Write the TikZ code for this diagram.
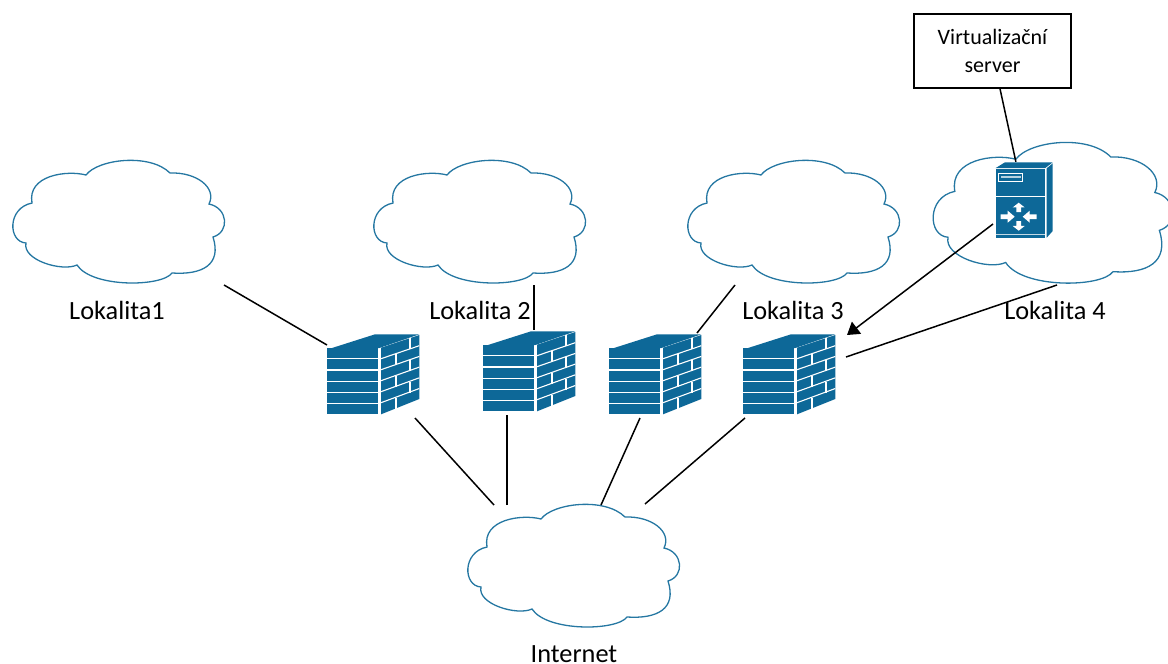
\documentclass[tikz,border=0pt]{standalone}
\usepackage{fontspec}
\setmainfont{Carlito}
\usepackage{tikz}
\usetikzlibrary{arrows.meta}

\definecolor{netblue}{RGB}{13,104,152}

\tikzset{
    x=1pt,
    y=-1pt,
    cloudline/.style={draw=netblue!90!white, line width=1.3pt},
    place/.style={inner sep=0pt, minimum width=212pt, minimum height=122pt},
    wall/.style={inner sep=0pt, minimum width=92pt, minimum height=81pt},
    rack/.style={inner sep=0pt, minimum width=58pt, minimum height=76pt},
    label/.style={inner sep=0pt, font=\fontsize{26.3}{30}\selectfont},
    wire/.style={black, line width=1.5pt},
    notebox/.style={draw, line width=1.5pt, inner sep=0pt, minimum width=157pt, minimum height=74pt,
        align=center, font=\fontsize{22}{28}\selectfont},
    pics/cloudicon/.style={code={
        \draw[cloudline] (-32,-46)
            .. controls (-20,-62) and (32,-68) .. (52,-48)
            .. controls (79,-49) and (99,-33) .. (91,-17)
            .. controls (110,-13) and (112,11) .. (95,16)
            .. controls (104,44) and (84,54) .. (54,52)
            .. controls (44,66) and (-26,67) .. (-41,44)
            .. controls (-56,51) and (-96,39) .. (-92,22)
            .. controls (-110,21) and (-111,-13) .. (-86,-18)
            .. controls (-91,-46) and (-51,-51) .. (-32,-46) -- cycle;
    }},
    pics/wallicon/.style={code={
        % top, front rows, side with mortar lines
        \fill[netblue] (-41,-27) -- (2,-40.7) -- (46.3,-40.7) -- (6.3,-27) -- cycle;
        \foreach \row in {0,...,5}
            \fill[netblue] (-45.7,-26.7+11.1*\row) rectangle ++(51,10);
        \fill[netblue] (8,-27.3) -- (46.3,-40) -- (46.3,24) -- (8,39.3) -- cycle;
        \foreach \row in {1,...,5}
            \draw[white, line width=1.1pt] (8,-27.3+11*\row) -- (46.3,-40+10.7*\row);
        \foreach \mx/\row in {37/0,23/1,37/2,23/3,37/4,23/5}
            \draw[white, line width=1.5pt] (\mx,-27.3+11*\row-0.336*\mx+2.9) -- ++(0,11);
    }},
    pics/rackicon/.style={code={
        \fill[netblue] (-28.3,-32) -- (-19,-37.7) -- (28.7,-37.7) -- (21.3,-32) -- cycle;
        \fill[netblue] (-28.3,-31.4) rectangle (21.3,38.3);
        \fill[netblue] (22.7,-31.7) -- (28.7,-36.7) -- (28.7,31) -- (22.7,37.7) -- cycle;
        \draw[white, line width=0.7pt] (-28.3,-4) -- (21.3,-4);
        \draw[white!75!netblue, line width=0.9pt] (-28.3,34.5) -- (21.3,34.5);
        \draw[white, line width=0.7pt] (-25.3,-26.7) rectangle (-1.3,-19);
        \fill[white!70!netblue] (-23,-24.5) rectangle (-3.5,-22.5);
        % four small arrows round one point
        \foreach \ang/\tail/\tip in {90/4.5/14,270/4.5/14,0/18/4,180/18/4}
            \fill[white, shift={(-5.3,16.7)}, rotate=\ang]
                (\tail,-2.4) -- ({(\tail+\tip)/2},-2.4) -- ({(\tail+\tip)/2},-6) -- (\tip,0)
                -- ({(\tail+\tip)/2},6) -- ({(\tail+\tip)/2},2.4) -- (\tail,2.4) -- cycle;
    }}
}

\begin{document}
\begin{tikzpicture}
    \useasboundingbox (0,0) rectangle (1168,664);

    % Clouds
    \node[place] (lok1) at (118,221) {};
    \node[place] (lok2) at (479,221) {};
    \node[place] (lok3) at (793,221) {};
    \node[place, minimum width=240pt, minimum height=140pt] (lok4) at (1052,212) {};
    \node[place] (inet) at (573,565) {};
    \pic at (lok1) {cloudicon};
    \pic at (lok2) {cloudicon};
    \pic at (lok3) {cloudicon};
    \pic[xscale=1.13, yscale=1.147] at (lok4) {cloudicon};
    \pic at (inet) {cloudicon};

    % Labels
    \node[label] (lok1text) at (117,310) {Lokalita1};
    \node[label] (lok2text) at (480,310) {Lokalita 2};
    \node[label] (lok3text) at (793,310) {Lokalita 3};
    \node[label] (lok4text) at (1055,310) {Lokalita 4};
    \node[label] (inettext) at (574,654) {Internet};

    % Firewalls
    \node[wall] (fw1) at (373,375) {};
    \node[wall] (fw2) at (529,372) {};
    \node[wall] (fw3) at (655,375) {};
    \node[wall] (fw4) at (789,375) {};
    \foreach \fw in {fw1,fw2,fw3,fw4}
        \pic at (\fw) {wallicon};

    % Server and its box
    \node[rack] (srv) at (1024,200) {};
    \pic at (srv) {rackicon};
    \node[notebox] (vserver) at (992.5,51) {Virtualizační\\server};

    % Lines
    \draw[wire] ([shift={(106,64)}]lok1.center) -- ([shift={(-46,-30)}]fw1.center);
    \draw[wire] ([shift={(55,64)}]lok2.center) -- ([shift={(5,-42)}]fw2.center);
    \draw[wire] ([shift={(-58,64)}]lok3.center) -- ([shift={(42,-42)}]fw3.center);
    \draw[wire] ([shift={(5,73)}]lok4.center) -- ([shift={(57,-18)}]fw4.center);
    \draw[wire] ([shift={(-79,-60)}]inet.center) -- ([shift={(42,43)}]fw1.center);
    \draw[wire] ([shift={(-66,-60)}]inet.center) -- ([shift={(-22,43)}]fw2.center);
    \draw[wire] ([shift={(28,-60)}]inet.center) -- ([shift={(-15,43)}]fw3.center);
    \draw[wire] ([shift={(72,-61)}]inet.center) -- ([shift={(-44,43)}]fw4.center);
    \draw[wire] ([xshift=7.5pt]vserver.south) -- (srv.102);
    \draw[wire, -{Stealth[length=12pt,width=15pt,inset=0pt]}] ([shift={(-31,24)}]srv.center) -- ([shift={(58,-40)}]fw4.center);
\end{tikzpicture}
\end{document}
